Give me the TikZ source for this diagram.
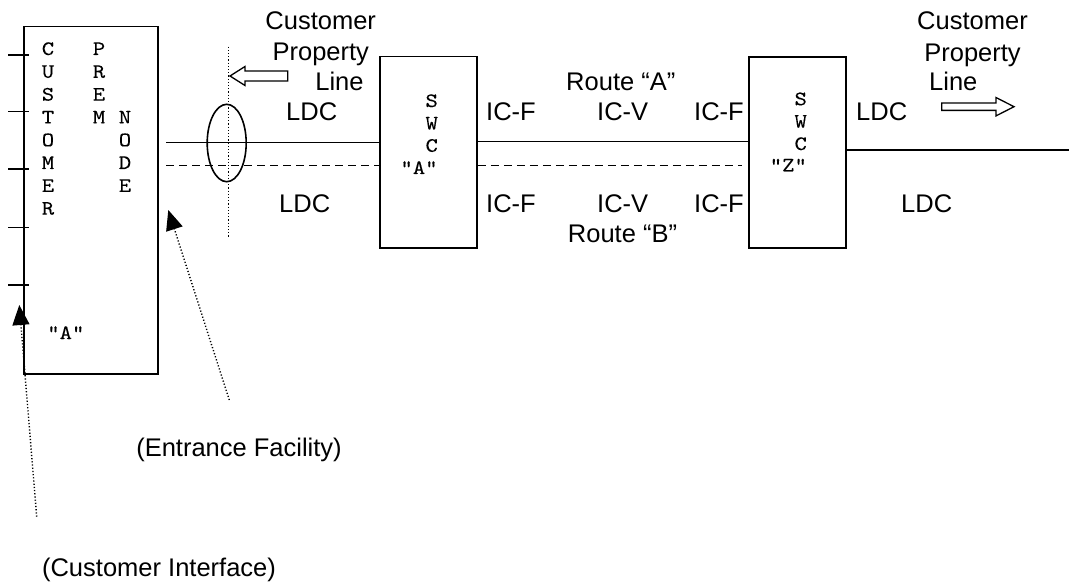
\documentclass[tikz,border=0pt]{standalone}
\usepackage{fontspec}
\setmainfont{Liberation Sans}
\newfontfamily\monof[FakeBold=0.15,FakeStretch=1.15]{lmmono10-regular.otf}
\usetikzlibrary{arrows.meta,shapes.geometric}
\begin{document}
\begin{tikzpicture}[x=1pt,y=-1pt,
  boxnode/.style={draw, line width=1.8pt, inner sep=0pt, anchor=north west},
  lbl/.style={font=\fontsize{25.5}{30}\selectfont, inner sep=0pt, anchor=base},
  mono/.style={font=\monof\fontsize{20.5}{22}\selectfont, inner sep=0pt, anchor=base},
  wire/.style={line width=1.4pt},
  dashwire/.style={line width=1.4pt, dash pattern=on 8pt off 5pt},
  dotline/.style={line width=1.4pt, dash pattern=on 1.2pt off 2pt},
  pointer/.style={dotline, -{Triangle[length=20pt,width=17pt]}},
  openarrow/.style={draw, line width=1.3pt, fill=white}
]
\useasboundingbox (0,0) rectangle (1069,583);

% boxes
\node[boxnode, minimum width=134pt, minimum height=347.3pt] (cpn) at (22.7,25.7) {};
\node[boxnode, minimum width=96.7pt, minimum height=191.6pt] (swcA) at (379.3,55.7) {};
\node[boxnode, minimum width=96.7pt, minimum height=191.3pt] (swcZ) at (748.3,56) {};

% ticks on customer interface side
\foreach \ty in {55,111.7,169.3,227.3,285}
  \draw[line width=1.6pt] (8,\ty) -- (29,\ty);

% letters in customer prem node
\foreach \l [count=\i] in {C,U,S,T,O,M,E,R}
  \node[mono] (cu\i) at (48,{55+22.8*(\i-1)}) {\l};
\foreach \l [count=\i] in {P,R,E,M}
  \node[mono] (pr\i) at (99,{55+22.8*(\i-1)}) {\l};
\foreach \l [count=\i] in {N,O,D,E}
  \node[mono] (nd\i) at (125,{123.4+22.8*(\i-1)}) {\l};
\node[mono] (cpnA) at (65.8,339) {"A”};

% SWC letters
\foreach \l [count=\i] in {S,W,C}
  \node[mono] (sa\i) at (431.7,{107+22.4*(\i-1)}) {\l};
\node[mono] (saq) at (419,174) {"A”};
\foreach \l [count=\i] in {S,W,C}
  \node[mono] (sz\i) at (800.7,{105.2+22.4*(\i-1)}) {\l};
\node[mono] (szq) at (788.3,171.5) {"Z”};

% lines
\coordinate (l0) at (166,142.3);
\coordinate (d0) at (166,165.7);
\draw[wire] (l0) -- (l0 -| swcA.west);
\draw[dashwire] (d0) -- (d0 -| swcA.west);
\coordinate (l1) at (476,141.7);
\coordinate (d1) at (476,165.7);
\coordinate (d1e) at (741.7,165.7);
\draw[wire] (l1 -| swcA.east) -- (l1 -| swcZ.west);
\draw[dashwire] (d1 -| swcA.east) -- (d1e);
\coordinate (r0) at (845,150);
\coordinate (r1) at (1069,150);
\draw[wire] (r0 -| swcZ.east) -- (r1);

% entrance ellipse and property line
\node[draw, ellipse, line width=1.6pt, minimum width=39pt, minimum height=77.4pt, inner sep=0pt] (ef) at (226.7,143) {};
\coordinate (pl0) at (228.7,46.7);
\coordinate (pl1) at (228.7,236.7);
\draw[dotline] (pl0) -- (pl1);

% open arrows
\draw[openarrow] (230,76) -- (245,66.5) -- (245,71) -- (287.7,71) -- (287.7,81) -- (245,81) -- (245,85.5) -- cycle;
\draw[openarrow] (1014,106.7) -- (996,97.5) -- (996,103) -- (941.7,103) -- (941.7,110.4) -- (996,110.4) -- (996,115.9) -- cycle;

% labels left
\node[lbl] (cp1) at (320.7,30) {Customer};
\node[lbl] (cp2) at (320.8,61) {Property};
\node[lbl] (cp3) at (339.5,91) {Line};
\node[lbl] (ldc1) at (311.7,121) {LDC};
\node[lbl] (ldc2) at (304.7,212.6) {LDC};

% middle labels
\node[lbl] (ra) at (620.8,91) {Route “A”};
\node[lbl] (icf1) at (511,121) {IC-F};
\node[lbl] (icv1) at (622.7,121) {IC-V};
\node[lbl] (icf2) at (719,121) {IC-F};
\node[lbl] (icf3) at (511,212.6) {IC-F};
\node[lbl] (icv2) at (622.7,212.6) {IC-V};
\node[lbl] (icf4) at (719,212.6) {IC-F};
\node[lbl] (rb) at (622.5,242) {Route “B”};

% right labels
\node[lbl] (cq1) at (972.5,30) {Customer};
\node[lbl] (cq2) at (972.5,61.6) {Property};
\node[lbl] (cq3) at (953.3,91) {Line};
\node[lbl] (ldc3) at (881.7,121) {LDC};
\node[lbl] (ldc4) at (926.7,212.6) {LDC};

% pointers
\coordinate (efEnd) at (229.3,400);
\coordinate (efTip) at (168.3,210);
\draw[pointer] (efEnd) -- (efTip);
\node[lbl] (eft) at (239,456) {(Entrance Facility)};

\coordinate (ciEnd) at (36.7,516.7);
\coordinate (ciTip) at (19.3,305);
\draw[pointer] (ciEnd) -- (ciTip);
\node[lbl] (cit) at (159,576) {(Customer Interface)};
\end{tikzpicture}
\end{document}
